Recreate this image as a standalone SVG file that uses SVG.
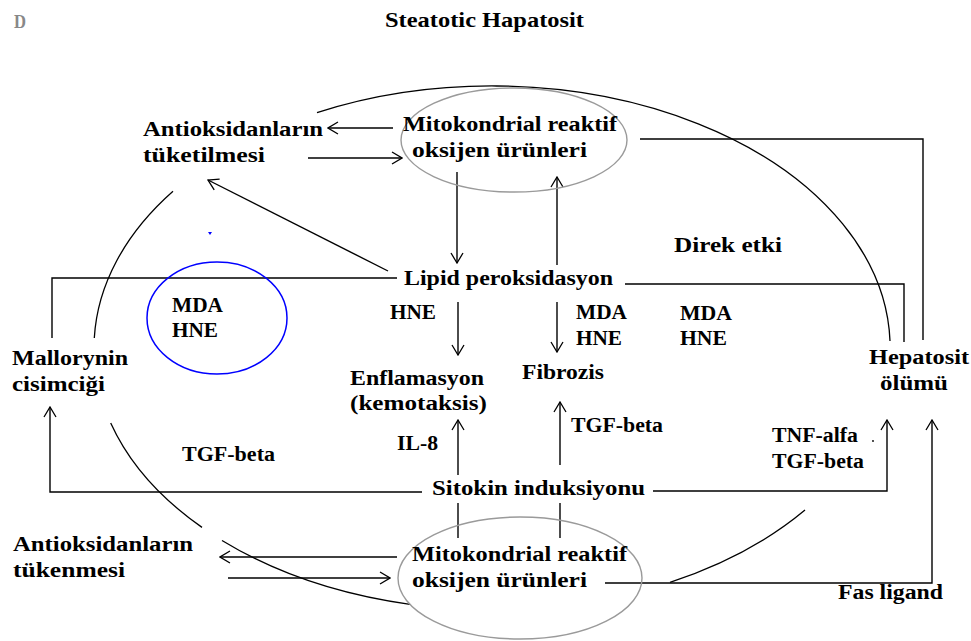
<svg xmlns="http://www.w3.org/2000/svg" width="971" height="641" viewBox="0 0 971 641">
<defs>
<marker id="arr" viewBox="0 0 12 14" refX="11" refY="7" markerWidth="12" markerHeight="14" markerUnits="userSpaceOnUse" orient="auto"><path d="M1,1 L11,7 L1,13" fill="none" stroke="#000" stroke-width="1.3"/></marker>
<style>
text{font-family:"Liberation Serif","Times New Roman",serif;font-weight:bold;font-size:20px;fill:#000}
.ln{fill:none;stroke:#000;stroke-width:1.4}
.arc{fill:none;stroke:#000;stroke-width:1.3}
.gell{fill:none;stroke:#9a9a9a;stroke-width:1.4}
.a{marker-end:url(#arr)}
</style>
</defs>
<rect width="971" height="641" fill="#fff"/>

<g id="label-d"><text x="14" y="28" style="fill:#888;font-size:18px" textLength="12" lengthAdjust="spacingAndGlyphs">D</text></g>
<g id="title"><text x="385" y="27" style="font-size:22px" textLength="199" lengthAdjust="spacingAndGlyphs">Steatotic Hapatosit</text></g>

<g id="big-cycle">
<path class="arc" d="M317,112.7 A398,262 0 0 1 890,341"/>
<path class="arc" d="M173,191.3 A398,262 0 0 0 94.3,338"/>
<path class="arc" d="M110.7,423 A398,262 0 0 0 202,527.4"/>
<path class="arc" d="M222,540.5 A398,262 0 0 0 410,604.4"/>
<path class="arc" d="M670,582.3 A398,262 0 0 0 805,510"/>
</g>

<g id="connectors">
<path class="ln a" d="M393,128 L328,128"/>
<path class="ln a" d="M308,158 L402,158"/>
<path class="ln a" d="M388,271 L208,180"/>
<path class="ln a" d="M457,172 L457,263"/>
<path class="ln a" d="M557,265 L557,177"/>
<path class="ln" d="M640,139 L923,139 L923,340"/>
<path class="ln" d="M397,278 L52,278 L52,338"/>
<path class="ln" d="M625,284 L904,284 L904,342"/>
<path class="ln a" d="M458,302 L458,355"/>
<path class="ln a" d="M557,302 L557,352"/>
<path class="ln a" d="M458,475 L458,420"/>
<path class="ln a" d="M560,465 L560,402"/>
<path class="ln a" d="M422,492 L50,492 L50,407"/>
<path class="ln a" d="M653,491 L887,491 L887,420"/>
<path class="ln" d="M458,503 L458,538"/>
<path class="ln" d="M560,503 L560,538"/>
<path class="ln a" d="M397,557 L220,557"/>
<path class="ln a" d="M228,578 L390,578"/>
<path class="ln a" d="M605,583 L932,583 L932,420"/>
</g>

<g id="mito-top">
<ellipse class="gell" cx="514" cy="140" rx="113" ry="52"/>
<text x="403" y="131" textLength="214" lengthAdjust="spacingAndGlyphs">Mitokondrial reaktif</text>
<text x="412" y="157" textLength="175" lengthAdjust="spacingAndGlyphs">oksijen ürünleri</text>
</g>

<g id="antiox-top">
<text x="143" y="136" textLength="180" lengthAdjust="spacingAndGlyphs">Antioksidanların</text>
<text x="143" y="162" textLength="122" lengthAdjust="spacingAndGlyphs">tüketilmesi</text>
</g>

<g id="lipid"><text x="404" y="285" textLength="209" lengthAdjust="spacingAndGlyphs">Lipid peroksidasyon</text></g>

<g id="direk"><text x="674" y="252" textLength="108" lengthAdjust="spacingAndGlyphs">Direk etki</text></g>

<g id="mda-blue">
<ellipse cx="217" cy="318" rx="70" ry="56" fill="none" stroke="#0000ff" stroke-width="1.5"/>
<path d="M208,232 L212,232 L210,235 Z" fill="#0000ff"/>
<text x="172" y="312" textLength="51" lengthAdjust="spacingAndGlyphs">MDA</text>
<text x="172" y="337" textLength="46" lengthAdjust="spacingAndGlyphs">HNE</text>
</g>

<g id="hne-enf"><text x="390" y="319" textLength="46" lengthAdjust="spacingAndGlyphs">HNE</text></g>
<g id="mda-fib">
<text x="576" y="319" textLength="51" lengthAdjust="spacingAndGlyphs">MDA</text>
<text x="576" y="345" textLength="46" lengthAdjust="spacingAndGlyphs">HNE</text>
</g>
<g id="mda-hep">
<text x="680" y="320" textLength="52" lengthAdjust="spacingAndGlyphs">MDA</text>
<text x="680" y="345" textLength="47" lengthAdjust="spacingAndGlyphs">HNE</text>
</g>

<g id="mallory">
<text x="12" y="365" textLength="116" lengthAdjust="spacingAndGlyphs">Mallorynin</text>
<text x="12" y="391" textLength="93" lengthAdjust="spacingAndGlyphs">cisimciği</text>
</g>

<g id="enflamasyon">
<text x="350" y="385" textLength="134" lengthAdjust="spacingAndGlyphs">Enflamasyon</text>
<text x="350" y="410" textLength="137" lengthAdjust="spacingAndGlyphs">(kemotaksis)</text>
</g>

<g id="fibrozis"><text x="522" y="379" textLength="82" lengthAdjust="spacingAndGlyphs">Fibrozis</text></g>

<g id="hepatosit">
<text x="869" y="364" textLength="100" lengthAdjust="spacingAndGlyphs">Hepatosit</text>
<text x="880" y="390" textLength="68" lengthAdjust="spacingAndGlyphs">ölümü</text>
</g>

<g id="tgf-fib"><text x="571" y="432" textLength="92" lengthAdjust="spacingAndGlyphs">TGF-beta</text></g>
<g id="il8"><text x="397" y="450" textLength="41" lengthAdjust="spacingAndGlyphs">IL-8</text></g>
<g id="tgf-left"><text x="182" y="461" textLength="93" lengthAdjust="spacingAndGlyphs">TGF-beta</text></g>
<g id="tnf">
<text x="772" y="442" textLength="86" lengthAdjust="spacingAndGlyphs">TNF-alfa</text>
<text x="772" y="468" textLength="92" lengthAdjust="spacingAndGlyphs">TGF-beta</text>
<circle cx="873" cy="441" r="0.9" fill="#000"/>
</g>

<g id="sitokin"><text x="432" y="495" textLength="213" lengthAdjust="spacingAndGlyphs">Sitokin induksiyonu</text></g>

<g id="antiox-bottom">
<text x="13" y="551" textLength="180" lengthAdjust="spacingAndGlyphs">Antioksidanların</text>
<text x="13" y="577" textLength="112" lengthAdjust="spacingAndGlyphs">tükenmesi</text>
</g>

<g id="mito-bottom">
<ellipse class="gell" cx="520" cy="578" rx="122" ry="61"/>
<text x="412" y="561" textLength="215" lengthAdjust="spacingAndGlyphs">Mitokondrial reaktif</text>
<text x="412" y="587" textLength="175" lengthAdjust="spacingAndGlyphs">oksijen ürünleri</text>
</g>

<g id="fas"><text x="838" y="599" textLength="105" lengthAdjust="spacingAndGlyphs">Fas ligand</text></g>
</svg>
